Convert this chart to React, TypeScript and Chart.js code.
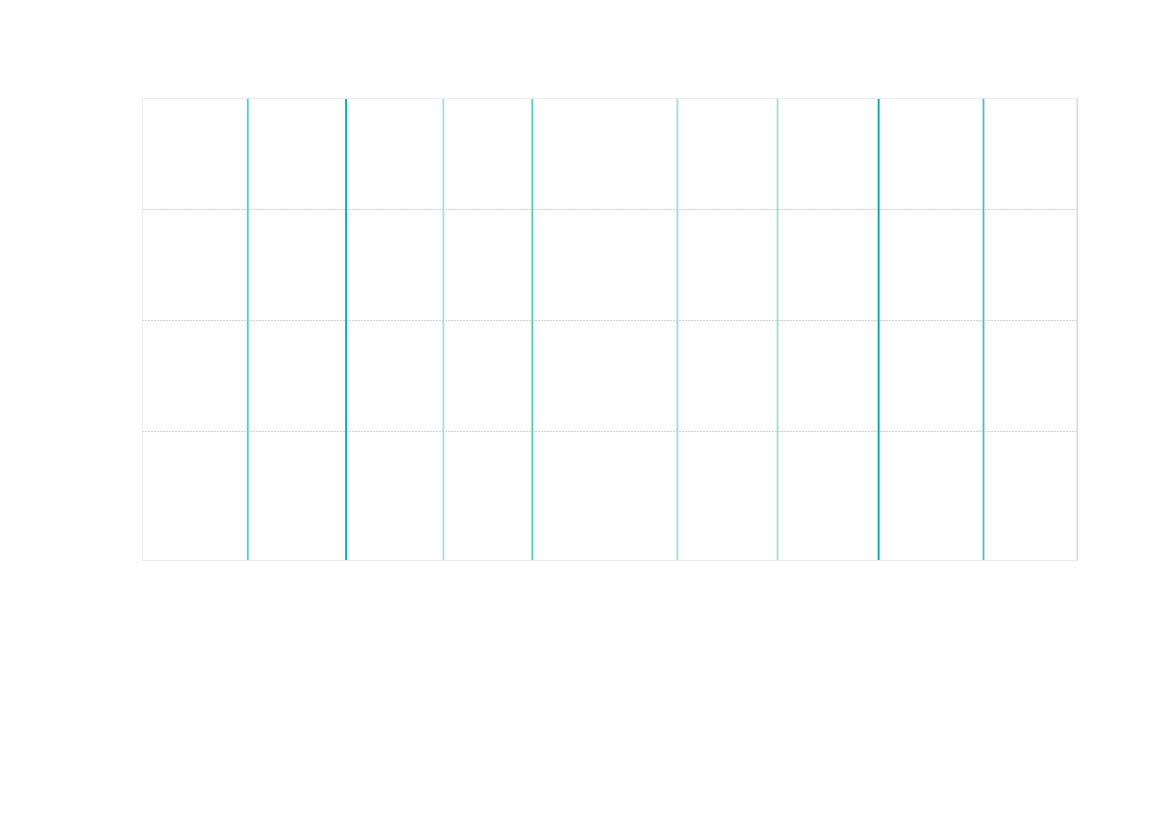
import { useEffect, useRef } from 'react';
import { Chart, registerables } from 'chart.js';

Chart.register(...registerables);

// event positions along the x range (0..100) and their colours
const EVENT_X = [11.3, 21.8, 32.2, 41.7, 57.2, 67.9, 78.7, 89.9];
const EVENT_COLORS = [
  '#4fd1c8',
  '#00b2aa',
  '#a9dfdb',
  '#4fcfc6',
  '#a3dcd8',
  '#a7ddd9',
  '#00a99d',
  '#5fbdb3',
];
const X_RANGE = [0, 100];
const Y_RANGE = [-0.162, 4];
const Y_GRID = [1, 2, 3];

const frame = {
  id: 'frame',
  afterDraw(chart: Chart) {
    const { ctx, chartArea: a } = chart;
    ctx.save();
    ctx.lineWidth = 1;
    ctx.strokeStyle = '#ebebeb';
    ctx.beginPath();
    ctx.moveTo(a.right, a.top + 0.5);
    ctx.lineTo(a.left + 0.5, a.top + 0.5);
    ctx.lineTo(a.left + 0.5, a.bottom - 0.5);
    ctx.lineTo(a.right, a.bottom - 0.5);
    ctx.stroke();
    ctx.strokeStyle = '#dcdcdc';
    ctx.lineWidth = 1.5;
    ctx.beginPath();
    ctx.moveTo(a.right - 0.75, a.top);
    ctx.lineTo(a.right - 0.75, a.bottom);
    ctx.stroke();
    ctx.restore();
  },
};

export default function App() {
  const canvasRef = useRef<HTMLCanvasElement>(null);

  useEffect(() => {
    if (!canvasRef.current) return;
    const chart = new Chart(canvasRef.current, {
      type: 'bar',
      data: {
        datasets: [
          {
            data: EVENT_X.map((x) => ({ x, y: [Y_RANGE[0], Y_RANGE[1]] })) as any,
            backgroundColor: EVENT_COLORS,
            barThickness: 1.2,
            borderWidth: 0,
          },
        ],
      },
      options: {
        animation: false,
        responsive: true,
        maintainAspectRatio: false,
        layout: { padding: { left: 134, top: 90, right: 83, bottom: 250 } },
        scales: {
          x: {
            type: 'linear',
            offset: false,
            min: X_RANGE[0],
            max: X_RANGE[1],
            grid: { display: false, offset: false },
            ticks: { display: false },
            border: { display: false },
          },
          y: {
            min: Y_RANGE[0],
            max: Y_RANGE[1],
            afterBuildTicks: (scale) => {
              scale.ticks = Y_GRID.map((value) => ({ value }));
            },
            grid: { color: '#d0d0d0', lineWidth: 1, drawTicks: false },
            border: { display: false, dash: [2, 1] },
            ticks: { display: false },
          },
        },
        plugins: {
          legend: { display: false },
          tooltip: { enabled: false },
        },
      },
      plugins: [frame],
    });
    return () => chart.destroy();
  }, []);

  return (
    <div style={{ width: '100%', height: 811 }}>
      <canvas ref={canvasRef} />
    </div>
  );
}
